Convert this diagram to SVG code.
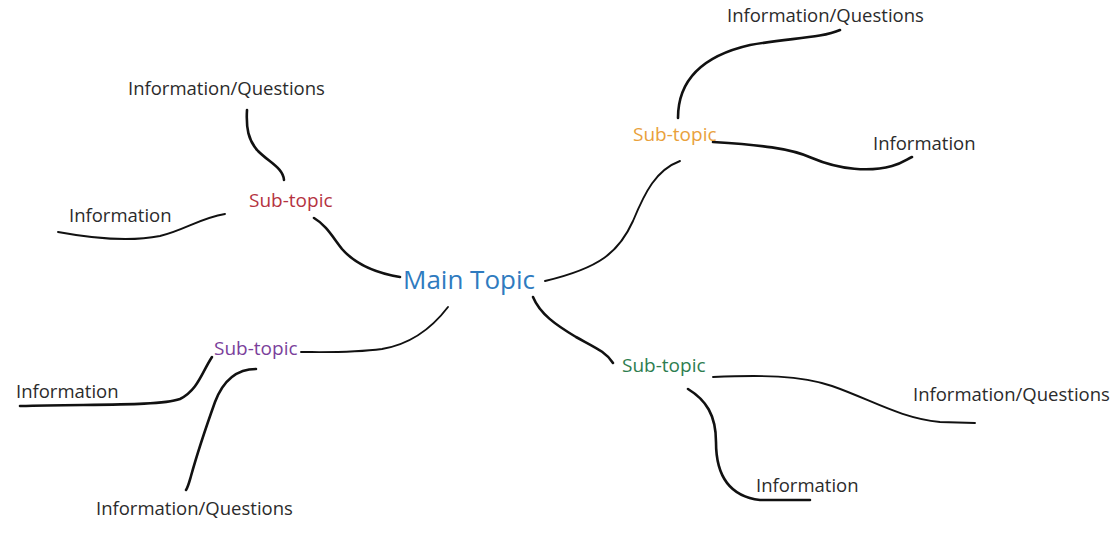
<svg xmlns="http://www.w3.org/2000/svg" width="1115" height="542" viewBox="0 0 1115 542">
<style>
text{font-family:"Open Sans","Noto Sans","Liberation Sans",sans-serif;}
.info{font-size:18.5px;fill:#2b2b2b;}
.sub{font-size:19px;}
.main{font-size:26px;fill:#2f7bbf;}
.c{fill:none;stroke:#111;stroke-linecap:round;stroke-linejoin:round;stroke-width:2.6;}
.t{stroke-width:1.9;}
</style>
<rect width="1115" height="542" fill="#fff"/>
<g id="connectors">
<path class="c" d="M247,110 C246,128 248,140 258,151 C270,163 283,168 284,180"/>
<path class="c t" d="M225,214 C200,218 185,230 160,236 C125,243 85,237 58,232"/>
<path class="c" d="M314,218 C326,225 332,236 342,249 C356,265 376,273 400,277"/>
<path class="c t" d="M680,161 C656,170 645,192 633,221 C619,252 600,268 545,281"/>
<path class="c" d="M678,118 C678,80 702,56 750,45 C790,38 822,38 840,30"/>
<path class="c" d="M713,142 C760,145 790,148 812,158 C840,170 870,172 892,166 C903,163 907,159 912,157"/>
<path class="c t" d="M448,307 C432,328 412,344 382,349 C352,353 322,352 301,352"/>
<path class="c" d="M212,357 C202,372 198,390 180,399 C160,406 100,404 20,406"/>
<path class="c" d="M256,369 C236,369 223,381 215,402 C205,430 196,458 191,476 C189,483 188,487 186,490"/>
<path class="c" d="M533,297 C540,314 556,325 576,337 C596,348 606,352 613,363"/>
<path class="c t" d="M713,377 C760,375 800,375 832,386 C872,400 900,418 940,422 L975,423"/>
<path class="c" d="M688,389 C706,400 716,415 716,442 C716,472 726,496 760,500 L810,500"/>
</g>
<g id="main"><text class="main" x="403" y="289">Main Topic</text></g>
<g id="sub-red"><text class="sub" x="249" y="207" fill="#b5333f">Sub-topic</text></g>
<g id="sub-orange"><text class="sub" x="633" y="141" fill="#e9a13b">Sub-topic</text></g>
<g id="sub-purple"><text class="sub" x="214" y="355" fill="#7b3f9b">Sub-topic</text></g>
<g id="sub-green"><text class="sub" x="622" y="372" fill="#2e7d4f">Sub-topic</text></g>
<g id="info-tl-q"><text class="info" x="128" y="95">Information/Questions</text></g>
<g id="info-tl"><text class="info" x="69" y="222">Information</text></g>
<g id="info-tr-q"><text class="info" x="727" y="22">Information/Questions</text></g>
<g id="info-tr"><text class="info" x="873" y="150">Information</text></g>
<g id="info-bl"><text class="info" x="16" y="398">Information</text></g>
<g id="info-bl-q"><text class="info" x="96" y="515">Information/Questions</text></g>
<g id="info-br-q"><text class="info" x="913" y="401">Information/Questions</text></g>
<g id="info-br"><text class="info" x="756" y="492">Information</text></g>
</svg>
